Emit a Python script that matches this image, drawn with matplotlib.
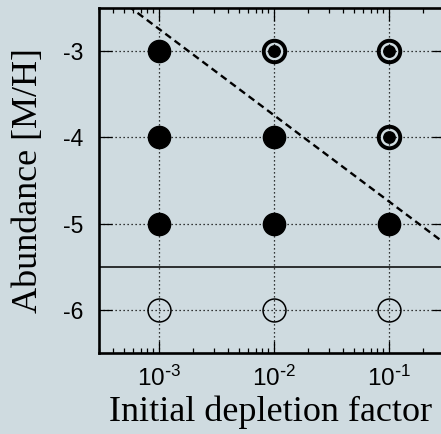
import numpy as np
import matplotlib
matplotlib.use("Agg")
import matplotlib.pyplot as plt
from matplotlib.ticker import FixedLocator, LogLocator, NullFormatter

# ---- data ----
depletion = [1e-3, 1e-2, 1e-1]
abund_filled_x = [1e-3, 1e-3, 1e-3, 1e-2, 1e-2, 1e-1]
abund_filled_y = [-3, -4, -5, -4, -5, -5]
abund_ring_x = [1e-2, 1e-1, 1e-1]
abund_ring_y = [-3, -3, -4]
abund_open_x = [1e-3, 1e-2, 1e-1]
abund_open_y = [-6, -6, -6]
threshold = -5.5
dash_intercept = -5.74   # y = intercept - log10(x)
dash_slope = -1.0
yticks = [-3, -4, -5, -6]
xtick_labels = [r'$\mathdefault{10^{\text{-}3}}$', r'$\mathdefault{10^{\text{-}2}}$',
                r'$\mathdefault{10^{\text{-}1}}$']

plt.rcParams['axes.unicode_minus'] = False
plt.rcParams['mathtext.default'] = 'regular'
plt.rcParams['font.family'] = ['Liberation Sans', 'DejaVu Sans']

bg = '#cfdbe0'
fig = plt.figure(figsize=(4.41, 4.34), dpi=100, facecolor=bg)
ax = fig.add_axes([98.5/441, 81/434, 345/441, 345/434])
ax.set_facecolor(bg)

ax.set_xscale('log')
ax.set_xlim(3e-4, 3e-1)
ax.set_ylim(-6.5, -2.5)

# grid
for xv in depletion:
    ax.axvline(xv, color='black', lw=0.9, ls=(0, (1, 2.2)), zorder=1)
for yv in yticks:
    ax.axhline(yv, color='black', lw=0.9, ls=(0, (1, 2.2)), zorder=1)

# threshold and dashed line
ax.axhline(threshold, color='black', lw=1.1, zorder=2)
xx = np.logspace(np.log10(3e-4), np.log10(3e-1), 50)
ax.plot(xx, dash_intercept + dash_slope * np.log10(xx), color='black', lw=1.7,
        ls=(0, (3, 1.9)), zorder=2)

# markers
ax.plot(abund_filled_x, abund_filled_y, 'o', ms=16, color='black', mec='black', zorder=3)
ax.plot(abund_ring_x, abund_ring_y, 'o', ms=15.5, mfc='none', mec='black', mew=2.8, zorder=3)
ax.plot(abund_ring_x, abund_ring_y, 'o', ms=8.2, color='black', zorder=3)
ax.plot(abund_open_x, abund_open_y, 'o', ms=16.5, mfc='none', mec='black', mew=1.1, zorder=3)

# ticks
ax.xaxis.set_major_locator(FixedLocator(depletion))
ax.xaxis.set_minor_locator(LogLocator(base=10, subs=np.arange(2, 10)))
ax.xaxis.set_minor_formatter(NullFormatter())
ax.set_xticklabels(xtick_labels)
ax.set_yticks(yticks)
ax.set_yticklabels([str(v) for v in yticks])
ax.tick_params(which='major', direction='in', length=9, width=0.9, top=True, right=True,
               labelsize=16.5, pad=10)
ax.tick_params(which='minor', direction='in', length=3.6, width=0.9, top=True, right=True)
ax.tick_params(axis='x', which='major', labelsize=17.5, pad=9.5)
ax.tick_params(axis='y', pad=11)

for s in ax.spines.values():
    s.set_linewidth(1.9)

ax.set_xlabel('Initial depletion factor', family=['Liberation Serif'], fontsize=26, labelpad=3)
ax.set_ylabel('Abundance [M/H]', family=['Liberation Serif'], fontsize=26, labelpad=13)

fig.savefig('out.png', dpi=100, facecolor=bg)
